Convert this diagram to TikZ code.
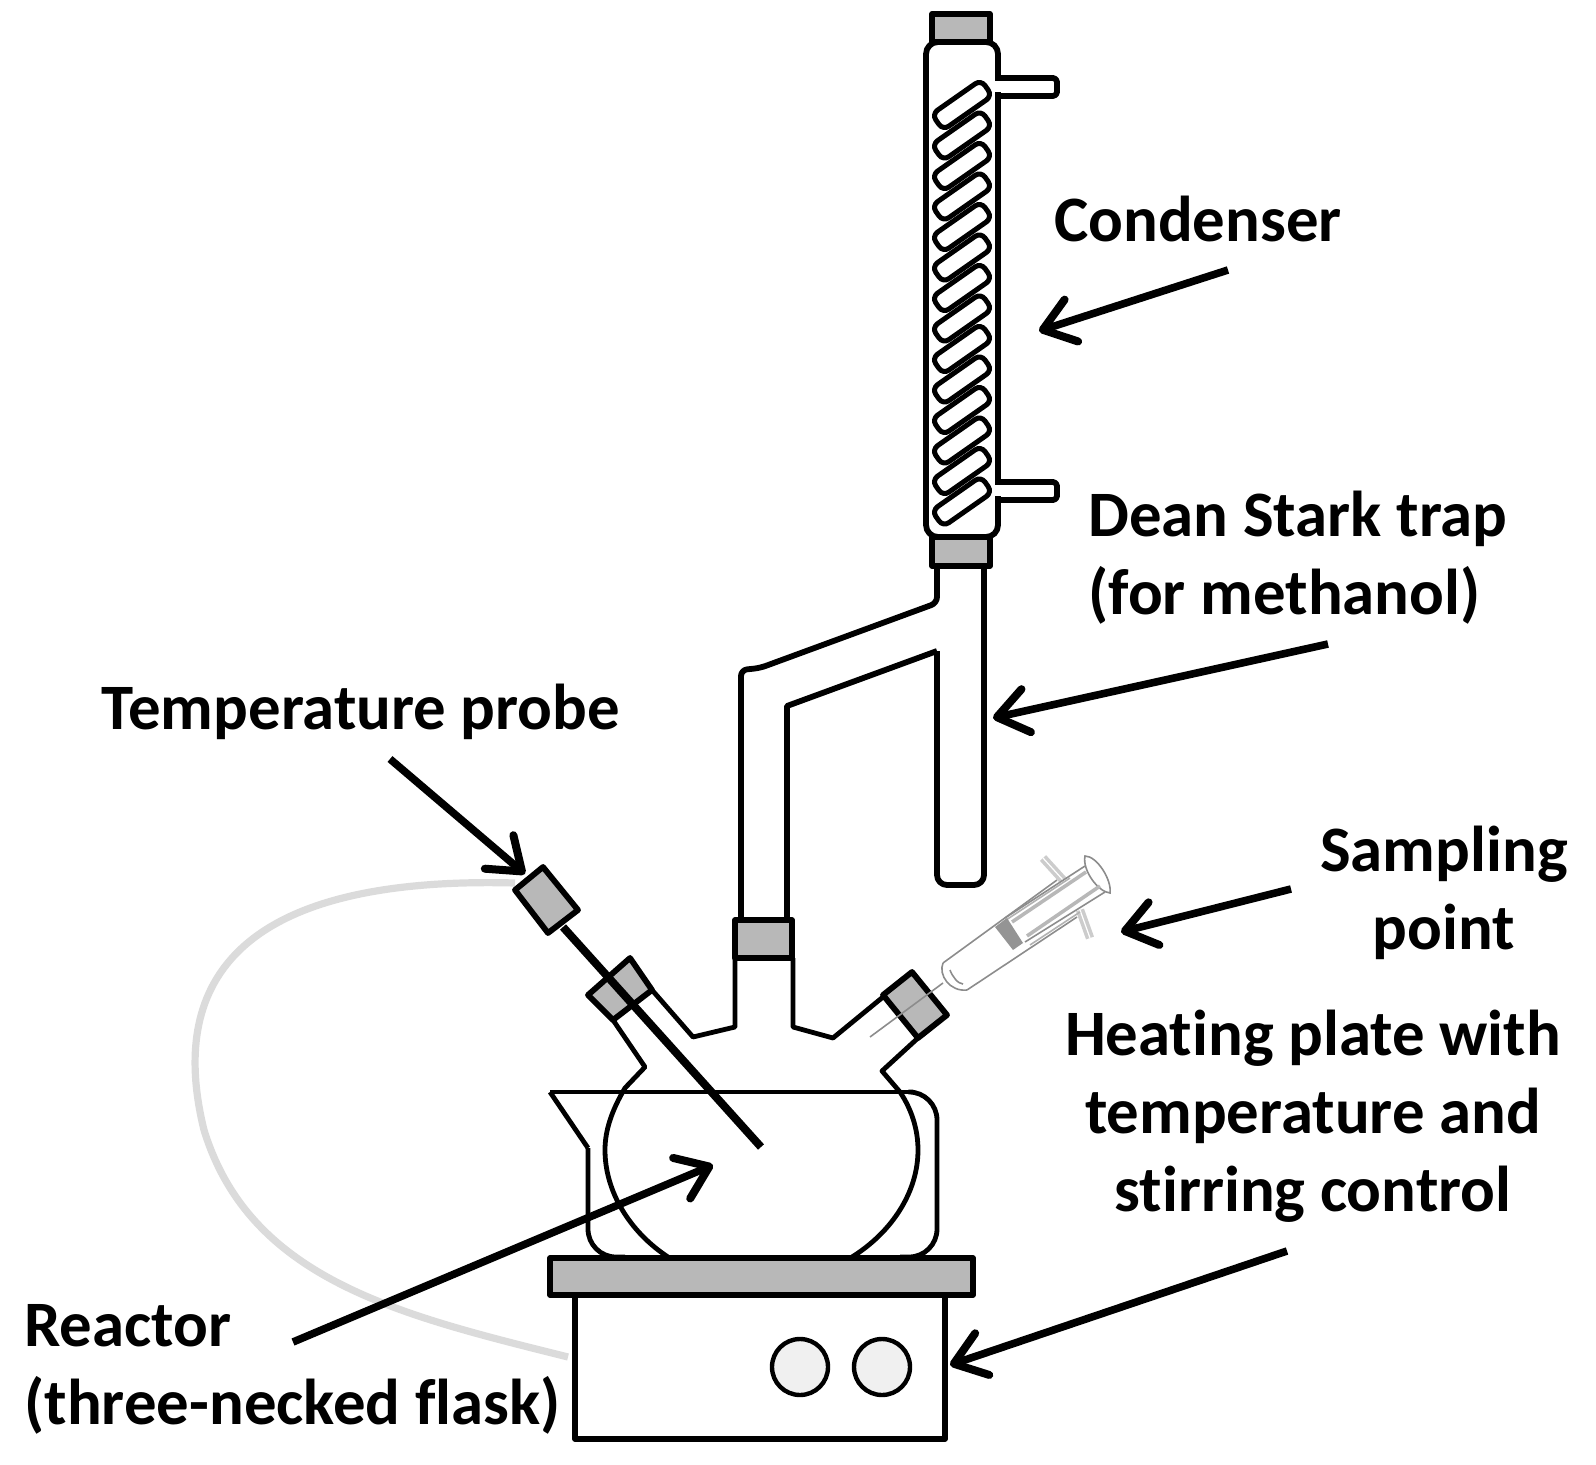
\documentclass[tikz,border=0pt]{standalone}
\usepackage{fontspec}
\setmainfont[Ligatures=NoCommon]{Carlito}
\usetikzlibrary{arrows.meta}
\definecolor{capgray}{gray}{0.72}
\tikzset{
  wall/.style={line width=2.9pt, line join=round},
  thinwall/.style={line width=2.4pt, line join=round},
  capbox/.style={wall, fill=capgray},
  coilbox/.style={draw, line width=2.5pt, rounded corners=3.5pt, minimum width=30pt, minimum height=9.8pt, inner sep=0pt, rotate=35},
  knob/.style={draw, circle, line width=2.2pt, fill=black!6, minimum size=28pt, inner sep=0pt},
  label/.style={font=\bfseries\fontsize{32.4}{39}\selectfont, inner sep=0pt},
  pointer/.style={line width=3.8pt, -{Straight Barb[length=15pt,width=22pt,line width=4pt,round]}},
  syr/.style={line width=0.8pt, black!45},
  syrflange/.style={line width=1.8pt, black!20, double=white, double distance=0.6pt}
}
\begin{document}
\begin{tikzpicture}[x=0.5pt, y=-0.5pt]
	\useasboundingbox (0,0) rectangle (1596,1465);

	% Tubing from the heating plate to the probe
	\draw[line width=3.6pt, black!14] (568,1357) .. controls (400,1315) and (250,1280) .. (204,1130)
	.. controls (172,1000) and (215,875) .. (515,883);

	% Condenser
	\draw[wall, rounded corners=6pt] (926,42) rectangle (998,537);
	\foreach \ytube in {78,482} {
			\draw[wall, rounded corners=2pt] (998,\ytube) -- (1057,\ytube) -- (1057,\ytube+18) -- (998,\ytube+18);
			\fill[white] (994,\ytube+3.5) rectangle (1003,\ytube+14.5);
		}
	\draw[capbox] (932,14) rectangle (990,42);
	\draw[capbox] (932,537) rectangle (990,566);

	% Coil inside the condenser
	\foreach \i in {0,...,13} {
			\pgfmathsetmacro{\ycoil}{105 + \i*30.5}
			\node[coilbox] (coil\i) at (962,\ycoil) {};
		}

	% Dean Stark trap and side arm
	\draw[wall, rounded corners=3pt] (937,566) -- (937,603) -- (760,668) -- (741,670) -- (741,920);
	\draw[wall] (787,920) -- (787,706) -- (937,651);
	\draw[wall, rounded corners=5pt] (937,651) -- (937,885) -- (984,885) -- (984,566);

	% Beaker
	\draw[thinwall, rounded corners=14pt] (913,1092) -- (937,1092) -- (937,1257) -- (900,1257);
	\draw[thinwall] (550,1092) -- (913,1092);
	\draw[thinwall] (550,1092) -- (588,1148);
	\draw[thinwall, rounded corners=14pt] (588,1148) -- (588,1257) -- (625,1257);

	% Flask with its three necks
	\draw[thinwall] (793,958) -- (793,1027) -- (833,1038) -- (883,997);
	\draw[thinwall] (735,958) -- (735,1027) -- (693,1037) -- (652,990);
	\draw[thinwall] (613,1020) -- (645,1067) -- (625,1088)
	.. controls (612,1110) and (605,1130) .. (605,1150)
	.. controls (605,1192) and (630,1232) .. (668,1257);
	\draw[thinwall] (918,1038) -- (882,1071) -- (900,1092)
	.. controls (912,1110) and (918,1130) .. (918,1150)
	.. controls (918,1192) and (892,1232) .. (852,1257);

	% Caps on the necks
	\draw[capbox] (735,920) rectangle (792,958);
	\draw[capbox] (630,958) -- (652,990) -- (613,1020) -- (588,995) -- cycle;
	\draw[capbox] (912,972) -- (947,1015) -- (918,1038) -- (883,995) -- cycle;

	% Temperature probe
	\draw[line width=4pt] (563,927) -- (761,1147);
	\draw[capbox] (543,867) -- (578,910) -- (548,933) -- (515,890) -- cycle;

	% Syringe
	\draw[syr] (870,1037) -- (943,983);
	\draw[syr] (943,963) -- (1057,880);
	\draw[syr] (967,990) -- (1077,917);
	\draw[syr] (943,963) .. controls (938,975) and (950,992) .. (967,990);
	\draw[syr] (950,970) .. controls (952,976) and (958,984) .. (963,984);
	\draw[syrflange] (1043,858) -- (1063,880);
	\draw[syrflange] (1080,910) -- (1090,938);
	\draw[syr, fill=white] (1085,856) .. controls (1097,856) and (1112,880) .. (1110,893)
	.. controls (1098,892) and (1082,870) .. (1085,856) -- cycle;
	\draw[syr] (1005,918) -- (1085,866);
	\draw[syr] (1025,942) -- (1105,892);
	\draw[line width=1.8pt, black!28] (1012,922) -- (1086,872);
	\draw[line width=1.8pt, black!28] (1027,936) -- (1100,886);
	\draw[syr, black!30] (1003,922) -- (1070,878);
	\draw[syr, black!30] (1030,945) -- (1080,912);
	\fill[black!42] (995,927) -- (1007,918) -- (1023,943) -- (1013,950) -- cycle;

	% Heating plate
	\draw[wall] (575,1295) rectangle (945,1439);
	\draw[capbox] (550,1258) rectangle (973,1295);
	\node[knob] (knobleft) at (800,1367) {};
	\node[knob] (knobright) at (882,1367) {};

	% Labels
	\node[label] (condenser) at (1198,219) {Condenser};
	\node[label, align=left, anchor=west] (trap) at (1088,558) {Dean Stark trap\\(for methanol)};
	\node[label] (probe) at (361,712) {Temperature probe};
	\node[label, align=center] (sampling) at (1444,893) {Sampling\\point};
	\node[label, align=center] (heating) at (1313,1116) {Heating plate with\\temperature and\\stirring control};
	\node[label, align=left, anchor=west] (reactor) at (24,1369) {Reactor\\(three-necked flask)};

	% Ends of the arrows
	\coordinate (condenserfrom) at (1228,270);
	\coordinate (condenserto) at (1039,331);
	\coordinate (trapfrom) at (1328,644);
	\coordinate (trapto) at (993,718);
	\coordinate (probefrom) at (390,759);
	\coordinate (probeto) at (525,874);
	\coordinate (samplingfrom) at (1291,889);
	\coordinate (samplingto) at (1121,932);
	\coordinate (heatingfrom) at (1287,1251);
	\coordinate (heatingto) at (950,1365);
	\coordinate (reactorfrom) at (293,1342);
	\coordinate (reactorto) at (713,1165);

	\draw[pointer] (condenserfrom) -- (condenserto);
	\draw[pointer] (trapfrom) -- (trapto);
	\draw[pointer] (probefrom) -- (probeto);
	\draw[pointer] (samplingfrom) -- (samplingto);
	\draw[pointer] (heatingfrom) -- (heatingto);
	\draw[pointer] (reactorfrom) -- (reactorto);
\end{tikzpicture}
\end{document}
